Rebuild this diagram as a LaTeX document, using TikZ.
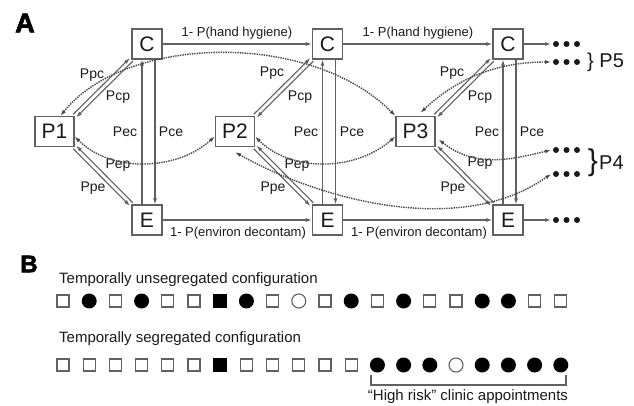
\documentclass[tikz,border=0pt]{standalone}
\usepackage{fontspec}
\setmainfont{Liberation Sans}
\newfontfamily\heavyfont{Liberation Sans Bold}[FakeBold=2.5]
\usetikzlibrary{arrows.meta}
\definecolor{boxgray}{gray}{0.38}
\definecolor{inkgray}{gray}{0.1}

\begin{document}
\begin{tikzpicture}[x=1pt, y=-1pt,
        box/.style = {draw=boxgray, line width=1.3pt, minimum height=30pt, inner sep=0pt, text=inkgray, font=\fontsize{21}{21}\selectfont},
        cbox/.style = {box, minimum width=30pt},
        pbox/.style = {box, minimum width=39pt},
        lbl/.style = {inner sep=0pt, text=inkgray, font=\fontsize{14}{14}\selectfont},
        longlbl/.style = {inner sep=0pt, text=inkgray, font=\fontsize{13}{13}\selectfont},
        txt/.style = {inner sep=0pt, text=inkgray, font=\fontsize{15}{15}\selectfont},
        link/.style = {draw=boxgray, line width=1.1pt, -{Latex[length=6pt, width=4pt]}},
        dotlink/.style = {draw=inkgray!80, line width=1.4pt, densely dotted, {Latex[length=6pt, width=4pt]}-{Latex[length=6pt, width=4pt]}},
        opensq/.style = {draw=boxgray, line width=1.2pt, minimum size=12pt, inner sep=0pt},
        fullsq/.style = {fill=black, minimum size=13.5pt, inner sep=0pt},
        fullc/.style = {circle, fill=black, minimum size=15pt, inner sep=0pt},
        openc/.style = {circle, draw=boxgray, line width=1.1pt, minimum size=14pt, inner sep=0pt},
    ]
        \useasboundingbox (0,0) rectangle (634,406);
        \pgfmathsetmacro{\s}{26.2};
        \pgfmathsetmacro{\ya}{301};
        \pgfmathsetmacro{\yb}{365};
        \node [font=\heavyfont\fontsize{27}{27}\selectfont] (tA) at (25,23) {A};
        \node [font=\heavyfont\fontsize{24}{24}\selectfont] (tB) at (29,264) {B};
        \node [cbox] (C1) at (147,44) {C};
        \node [cbox] (C2) at (327.5,44) {C};
        \node [cbox] (C3) at (508,44) {C};
        \node [cbox] (E1) at (147,220) {E};
        \node [cbox] (E2) at (327.5,220) {E};
        \node [cbox] (E3) at (508,220) {E};
        \node [pbox] (P1) at (54.5,131.5) {P1};
        \node [pbox] (P2) at (235,131.5) {P2};
        \node [pbox] (P3) at (415.5,131.5) {P3};
        \coordinate (c4) at (551,44);
        \coordinate (e4) at (551,220);
        \coordinate (p5) at (551,62);
        \coordinate (p4a) at (551,150);
        \coordinate (p4b) at (551,174);
        \draw [link] (C1) -- (C2);
        \draw [link] (C2) -- (C3);
        \draw [link] (C3) -- (c4);
        \draw [link] (E1) -- (E2);
        \draw [link] (E2) -- (E3);
        \draw [link] (E3) -- (e4);
        \node [longlbl] (hh1) at (237,33) {1- P(hand hygiene)};
        \node [longlbl] (hh2) at (418,33) {1- P(hand hygiene)};
        \node [longlbl] (ed1) at (238,233) {1- P(environ decontam)};
        \node [longlbl] (ed2) at (419,233) {1- P(environ decontam)};
        \draw [link] ([xshift=-5pt]E1.north) -- ([xshift=-5pt]C1.south);
        \draw [link] ([xshift=8pt]C1.south) -- ([xshift=8pt]E1.north);
        \draw [link] ([xshift=-5pt]E2.north) -- ([xshift=-5pt]C2.south);
        \draw [link] ([xshift=8pt]C2.south) -- ([xshift=8pt]E2.north);
        \draw [link] ([xshift=-5pt]E3.north) -- ([xshift=-5pt]C3.south);
        \draw [link] ([xshift=8pt]C3.south) -- ([xshift=8pt]E3.north);
        \node [lbl] (pec1) at (125,131.5) {Pec};
        \node [lbl] (pce1) at (171,131.5) {Pce};
        \node [lbl] (pec2) at (306,131.5) {Pec};
        \node [lbl] (pce2) at (352,131.5) {Pce};
        \node [lbl] (pec3) at (487,131.5) {Pec};
        \node [lbl] (pce3) at (532,131.5) {Pce};
        \draw [link] ([shift={(-1.5,-1.5)}]P1.north east) -- ([shift={(-1.5,-1.5)}]C1.south west);
        \draw [link] ([shift={(1.5,1.5)}]C1.south west) -- ([shift={(1.5,1.5)}]P1.north east);
        \draw [link] ([shift={(1.5,-1.5)}]E1.north west) -- ([shift={(1.5,-1.5)}]P1.south east);
        \draw [link] ([shift={(-1.5,1.5)}]P1.south east) -- ([shift={(-1.5,1.5)}]E1.north west);
        \draw [link] ([shift={(-1.5,-1.5)}]P2.north east) -- ([shift={(-1.5,-1.5)}]C2.south west);
        \draw [link] ([shift={(1.5,1.5)}]C2.south west) -- ([shift={(1.5,1.5)}]P2.north east);
        \draw [link] ([shift={(1.5,-1.5)}]E2.north west) -- ([shift={(1.5,-1.5)}]P2.south east);
        \draw [link] ([shift={(-1.5,1.5)}]P2.south east) -- ([shift={(-1.5,1.5)}]E2.north west);
        \draw [link] ([shift={(-1.5,-1.5)}]P3.north east) -- ([shift={(-1.5,-1.5)}]C3.south west);
        \draw [link] ([shift={(1.5,1.5)}]C3.south west) -- ([shift={(1.5,1.5)}]P3.north east);
        \draw [link] ([shift={(1.5,-1.5)}]E3.north west) -- ([shift={(1.5,-1.5)}]P3.south east);
        \draw [link] ([shift={(-1.5,1.5)}]P3.south east) -- ([shift={(-1.5,1.5)}]E3.north west);
        \node [lbl] (ppc1) at (92,75) {Ppc};
        \node [lbl] (pcp1) at (118,97) {Pcp};
        \node [lbl] (pep1) at (118,165) {Pep};
        \node [lbl] (ppe1) at (93,188) {Ppe};
        \node [lbl] (ppc2) at (272,73) {Ppc};
        \node [lbl] (pcp2) at (300,97) {Pcp};
        \node [lbl] (pep2) at (297,165) {Pep};
        \node [lbl] (ppe2) at (273,188) {Ppe};
        \node [lbl] (ppc3) at (452,73) {Ppc};
        \node [lbl] (pcp3) at (480,97) {Pcp};
        \node [lbl] (pep3) at (480,163) {Pep};
        \node [lbl] (ppe3) at (453,188) {Ppe};
        \draw [dotlink] ([xshift=6pt]P1.north) .. controls (125,35) and (310,30) .. (P3.north west);
        \draw [dotlink] ([yshift=-5pt]P1.east) .. controls (110,172) and (175,172) .. ([yshift=-5pt]P2.west);
        \draw [dotlink] ([yshift=-5pt]P2.east) .. controls (290,172) and (355,172) .. ([yshift=-5pt]P3.west);
        \draw [dotlink] ([yshift=-5pt]P2.south) .. controls (320,200) and (460,238) .. (p4b);
        \draw [dotlink] ([shift={(3,8)}]P3.east) .. controls (475,168) and (510,160) .. (p4a);
        \draw [dotlink] ([shift={(5,-3)}]P3.north) .. controls (455,80) and (495,62) .. (p5);
        \fill [inkgray] (556,44) circle [radius=3] (566.5,44) circle [radius=3] (577,44) circle [radius=3];
        \fill [inkgray] (556,62) circle [radius=3] (566.5,62) circle [radius=3] (577,62) circle [radius=3];
        \fill [inkgray] (556,150) circle [radius=3] (566.5,150) circle [radius=3] (577,150) circle [radius=3];
        \fill [inkgray] (556,174) circle [radius=3] (566.5,174) circle [radius=3] (577,174) circle [radius=3];
        \fill [inkgray] (556,220) circle [radius=3] (566.5,220) circle [radius=3] (577,220) circle [radius=3];
        \node [anchor=west, inner sep=0pt, text=inkgray, font=\fontsize{20}{20}\selectfont] (P5) at (587,62) {\} P5};
        \node [inner sep=0pt, text=inkgray, font=\fontsize{30}{30}\selectfont] (br4) at (593,162.5) {\}};
        \node [anchor=west, inner sep=0pt, text=inkgray, font=\fontsize{20}{20}\selectfont] (P4) at (599,162.5) {P4};
        \node [txt, anchor=base west] (lu) at (59,283) {Temporally unsegregated configuration};
        \node [txt, anchor=base west] (ls) at (59,342) {Temporally segregated configuration};
        \node [opensq] (u1) at (63+0*\s, \ya) {};
        \node [fullc] (u2) at (63+1*\s, \ya) {};
        \node [opensq] (u3) at (63+2*\s, \ya) {};
        \node [fullc] (u4) at (63+3*\s, \ya) {};
        \node [opensq] (u5) at (63+4*\s, \ya) {};
        \node [opensq] (u6) at (63+5*\s, \ya) {};
        \node [fullsq] (u7) at (63+6*\s, \ya) {};
        \node [fullc] (u8) at (63+7*\s, \ya) {};
        \node [opensq] (u9) at (63+8*\s, \ya) {};
        \node [openc] (u10) at (63+9*\s, \ya) {};
        \node [opensq] (u11) at (63+10*\s, \ya) {};
        \node [fullc] (u12) at (63+11*\s, \ya) {};
        \node [opensq] (u13) at (63+12*\s, \ya) {};
        \node [fullc] (u14) at (63+13*\s, \ya) {};
        \node [opensq] (u15) at (63+14*\s, \ya) {};
        \node [opensq] (u16) at (63+15*\s, \ya) {};
        \node [fullc] (u17) at (63+16*\s, \ya) {};
        \node [fullc] (u18) at (63+17*\s, \ya) {};
        \node [opensq] (u19) at (63+18*\s, \ya) {};
        \node [opensq] (u20) at (63+19*\s, \ya) {};
        \node [opensq] (g1) at (63+0*\s, \yb) {};
        \node [opensq] (g2) at (63+1*\s, \yb) {};
        \node [opensq] (g3) at (63+2*\s, \yb) {};
        \node [opensq] (g4) at (63+3*\s, \yb) {};
        \node [opensq] (g5) at (63+4*\s, \yb) {};
        \node [opensq] (g6) at (63+5*\s, \yb) {};
        \node [fullsq] (g7) at (63+6*\s, \yb) {};
        \node [opensq] (g8) at (63+7*\s, \yb) {};
        \node [opensq] (g9) at (63+8*\s, \yb) {};
        \node [opensq] (g10) at (63+9*\s, \yb) {};
        \node [opensq] (g11) at (63+10*\s, \yb) {};
        \node [opensq] (g12) at (63+11*\s, \yb) {};
        \node [fullc] (g13) at (63+12*\s, \yb) {};
        \node [fullc] (g14) at (63+13*\s, \yb) {};
        \node [fullc] (g15) at (63+14*\s, \yb) {};
        \node [openc] (g16) at (63+15*\s, \yb) {};
        \node [fullc] (g17) at (63+16*\s, \yb) {};
        \node [fullc] (g18) at (63+17*\s, \yb) {};
        \node [fullc] (g19) at (63+18*\s, \yb) {};
        \node [fullc] (g20) at (63+19*\s, \yb) {};
        \draw [boxgray, line width=1.2pt] (371,375) -- (371,385) -- (566,385) -- (566,375);
        \node [txt] (hr) at (468,397) {“High risk” clinic appointments};
    \end{tikzpicture}
\end{document}
